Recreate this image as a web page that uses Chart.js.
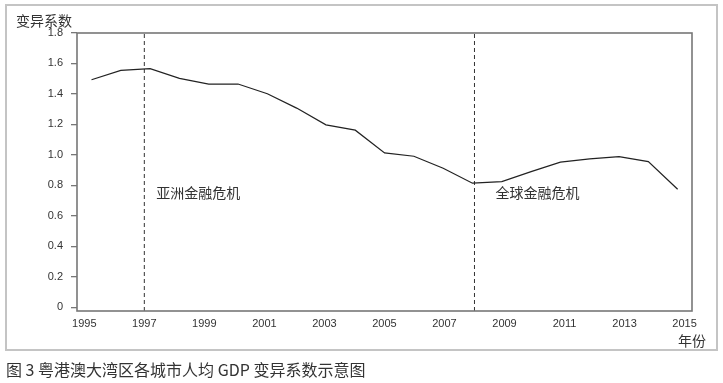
<!DOCTYPE html>
<html>
<head>
<meta charset="utf-8">
<script src="https://cdn.jsdelivr.net/npm/chart.js@4/dist/chart.umd.min.js"></script>
<style>
  html, body { margin: 0; padding: 0; background: #fff; }
  #wrap { width: 723px; height: 383px; }
</style>
</head>
<body>
<div id="wrap"><canvas id="chart" width="723" height="383"></canvas></div>
<script>
// data
var years = [1995, 1996, 1997, 1998, 1999, 2000, 2001, 2002, 2003, 2004, 2005,
  2006, 2007, 2008, 2009, 2010, 2011, 2012, 2013, 2014, 2015];
var cv = [1.493, 1.555, 1.566, 1.502, 1.465, 1.465, 1.401, 1.307, 1.197, 1.162, 1.013,
  0.991, 0.912, 0.814, 0.824, 0.89, 0.952, 0.974, 0.989, 0.956, 0.774];
var xTicks = [1995, 1997, 1999, 2001, 2003, 2005, 2007, 2009, 2011, 2013, 2015];
var yTicks = [0, 0.2, 0.4, 0.6, 0.8, 1.0, 1.2, 1.4, 1.6, 1.8];
var crisisYears = [1997, 2008];
var crisisLabels = ["亚洲金融危机", "全球金融危机"];
var yTitle = "变异系数";
var xTitle = "年份";
var caption = "图 3 粤港澳大湾区各城市人均 GDP 变异系数示意图";

var yMin = -0.025;
var yMax = 1.8;
var cjk = '"Noto Sans CJK SC", sans-serif';

var points = years.map(function (y, i) { return { x: y, y: cv[i] }; });

var datasets = [{
  data: points,
  xAxisID: "xd",
  yAxisID: "y",
  borderColor: "#222",
  borderWidth: 1.2,
  pointRadius: 0,
  tension: 0,
}];
crisisYears.forEach(function (yr) {
  datasets.push({
    data: [{ x: yr, y: yMin }, { x: yr, y: yMax }],
    xAxisID: "x",
    yAxisID: "y",
    borderColor: "#333",
    borderWidth: 1,
    borderDash: [4, 3],
    pointRadius: 0,
  });
});

var decor = {
  id: "decor",
  beforeDraw: function (chart) {
    var ctx = chart.ctx;
    ctx.save();
    ctx.fillStyle = "#fff";
    ctx.fillRect(0, 0, chart.width, chart.height);
    ctx.strokeStyle = "#c4c4c4";
    ctx.lineWidth = 2;
    ctx.strokeRect(6, 5, 711, 345);
    ctx.restore();
  },
  afterDraw: function (chart) {
    var ctx = chart.ctx;
    var a = chart.chartArea;
    var sx = chart.scales.x;
    var sy = chart.scales.y;
    ctx.save();
    ctx.strokeStyle = "#777";
    ctx.lineWidth = 1.6;
    ctx.strokeRect(a.left, a.top, a.right - a.left, a.bottom - a.top);

    ctx.fillStyle = "#333";
    ctx.textBaseline = "middle";
    ctx.font = "14px " + cjk;
    ctx.textAlign = "left";
    ctx.fillText(yTitle, 16, 21);
    ctx.fillText(crisisLabels[0], sx.getPixelForValue(crisisYears[0]) + 12, sy.getPixelForValue(0.75));
    ctx.fillText(crisisLabels[1], sx.getPixelForValue(crisisYears[1]) + 21, sy.getPixelForValue(0.75));
    ctx.textAlign = "right";
    ctx.fillText(xTitle, 706, 341);

    ctx.textAlign = "left";
    ctx.font = "16px " + cjk;
    ctx.fillText(caption, 6, 370);
    ctx.restore();
  },
};

new Chart(document.getElementById("chart"), {
  type: "line",
  data: { datasets: datasets },
  plugins: [decor],
  options: {
    responsive: false,
    animation: false,
    layout: { padding: { left: 0, top: 33, right: 31, bottom: 42 } },
    plugins: { legend: { display: false }, tooltip: { enabled: false } },
    scales: {
      x: {
        type: "linear",
        min: 1994.757,
        max: 2015.247,
        afterBuildTicks: function (axis) {
          axis.ticks = xTicks.map(function (v) { return { value: v }; });
        },
        afterFit: function (axis) { axis.height = 30; },
        grid: { display: false, drawTicks: false },
        border: { display: false },
        ticks: {
          autoSkip: false,
          maxRotation: 0,
          padding: 6,
          color: "#333",
          font: { family: "Liberation Sans", size: 11 },
          callback: function (v) { return String(v); },
        },
      },
      xd: {
        type: "linear",
        display: false,
        min: 1994.505,
        max: 2015.49,
      },
      y: {
        min: yMin,
        max: yMax,
        afterBuildTicks: function (axis) {
          axis.ticks = yTicks.map(function (v) { return { value: v }; });
        },
        afterFit: function (axis) { axis.width = 77; },
        grid: { drawOnChartArea: false, drawTicks: true, tickLength: 6, color: "#777", lineWidth: 1.3 },
        border: { display: false },
        ticks: {
          padding: 8,
          color: "#333",
          font: { family: "Liberation Sans", size: 11 },
          callback: function (v) { return v === 0 ? "0" : v.toFixed(1); },
        },
      },
    },
  },
});
</script>
</body>
</html>
